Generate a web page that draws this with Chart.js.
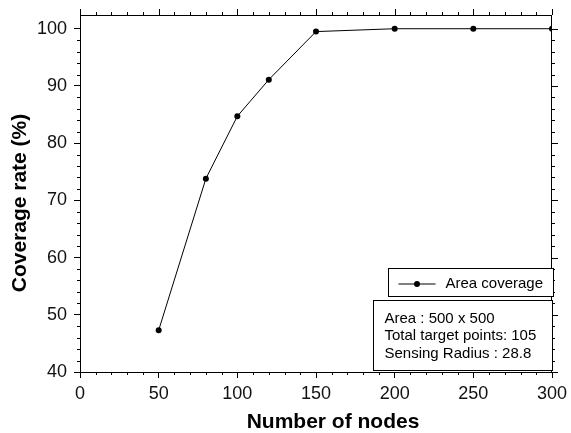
<!DOCTYPE html>
<html>
<head>
<meta charset="utf-8">
<script src="https://cdn.jsdelivr.net/npm/chart.js@4"></script>
<style>
  html, body { margin: 0; padding: 0; background: #fff; }
  #wrap { width: 571px; height: 433px; }
</style>
</head>
<body>
<div id="wrap"><canvas id="myChart" width="571" height="433"></canvas></div>
<script>
// values
var nodes = [50, 80, 100, 120, 150, 200, 250, 300];
var coverage = [47.3, 73.8, 84.7, 91.1, 99.5, 100, 100, 100];
var seriesName = "Area coverage";
var infoLines = ["Area : 500 x 500", "Total target points: 105", "Sensing Radius : 28.8"];
var xTitle = "Number of nodes";
var yTitle = "Coverage rate (%)";

var FONT = "'Liberation Sans', Arial, Helvetica, sans-serif";

// minor ticks, top/right frame, axis titles, legend and the info box
var extras = {
    id: 'extras',
    afterDraw: function (chart) {
        var c = chart.ctx, a = chart.chartArea;
        var xs = chart.scales.x, ys = chart.scales.y;
        c.save();
        c.strokeStyle = '#000';
        c.lineWidth = 1;
        c.beginPath();
        c.moveTo(a.left, a.top + 0.5); c.lineTo(a.right, a.top + 0.5);
        c.moveTo(a.right - 0.5, a.top); c.lineTo(a.right - 0.5, a.bottom);
        // x ticks
        for (var v = 0; v <= 300; v += 10) {
            var px = Math.round(xs.getPixelForValue(v)) + 0.5;
            var major = v % 50 === 0;
            var len = major ? 6 : 3;
            if (!major) { c.moveTo(px, a.bottom); c.lineTo(px, a.bottom + 3); }
            c.moveTo(px, a.top); c.lineTo(px, a.top - len);
        }
        // y ticks
        for (var w = 40; w <= 100; w += 2) {
            var py = Math.round(ys.getPixelForValue(w)) + 0.5;
            var maj = w % 10 === 0;
            var l = maj ? 6 : 3;
            if (!maj) { c.moveTo(a.left, py); c.lineTo(a.left - 3, py); }
            c.moveTo(a.right, py); c.lineTo(a.right + l, py);
        }
        c.stroke();

        // axis titles
        c.fillStyle = '#000';
        c.font = 'bold 21px ' + FONT;
        c.textAlign = 'center';
        c.textBaseline = 'middle';
        c.fillText(xTitle, 333, 422);
        c.save();
        c.translate(20, 203);
        c.rotate(-Math.PI / 2);
        c.fillText(yTitle, 0, 0);
        c.restore();

        // legend box
        var lx = a.right - 163.5, ly = a.bottom - 103.5;
        c.fillStyle = '#fff';
        c.fillRect(lx, ly, 165, 28);
        c.strokeRect(lx, ly, 165, 28);
        c.beginPath();
        c.moveTo(lx + 10, ly + 15.5); c.lineTo(lx + 47, ly + 15.5);
        c.stroke();
        c.fillStyle = '#000';
        c.beginPath();
        c.arc(lx + 28.5, ly + 15.5, 3, 0, Math.PI * 2);
        c.fill();
        c.font = '15px ' + FONT;
        c.textBaseline = 'alphabetic';
        c.textAlign = 'left';
        c.fillText(seriesName, lx + 57, ly + 19.5);

        // info box
        var bx = a.right - 178.5, by = a.bottom - 71.5;
        c.fillStyle = '#fff';
        c.fillRect(bx, by, 179, 70);
        c.strokeRect(bx, by, 179, 70);
        c.fillStyle = '#000';
        for (var i = 0; i < infoLines.length; i++) {
            c.fillText(infoLines[i], bx + 11, by + 22 + i * 17.5);
        }
        c.restore();
    }
};

var ctx = document.getElementById('myChart').getContext('2d');
var myChart = new Chart(ctx, {
    type: 'line',
    data: {
        datasets: [{
            label: seriesName,
            data: nodes.map(function (n, i) { return { x: n, y: coverage[i] }; }),
            borderColor: '#000',
            backgroundColor: '#000',
            borderWidth: 1,
            pointRadius: 3,
            pointBackgroundColor: '#000',
            pointBorderWidth: 0,
            tension: 0,
            fill: false
        }]
    },
    options: {
        responsive: false,
        animation: false,
        events: [],
        layout: { padding: { top: 15, right: 19, left: 0, bottom: 0 } },
        plugins: {
            legend: { display: false },
            tooltip: { enabled: false }
        },
        scales: {
            x: {
                type: 'linear',
                min: 0, max: 300,
                afterFit: function (s) { s.height = 61; s.paddingLeft = 0; s.paddingRight = 0; },
                ticks: { stepSize: 50, color: '#111', padding: 5, maxRotation: 0,
                         font: { family: FONT, size: 18 } },
                grid: { drawOnChartArea: false, drawTicks: true, tickLength: 6, color: '#000' },
                border: { color: '#000', width: 1 },
                title: { display: false }
            },
            y: {
                min: 40, max: 102.4,
                afterFit: function (s) { s.width = 80; s.paddingTop = 0; s.paddingBottom = 0; },
                ticks: { stepSize: 10, includeBounds: false, color: '#111', padding: 7,
                         font: { family: FONT, size: 18 } },
                grid: { drawOnChartArea: false, drawTicks: true, tickLength: 6, color: '#000' },
                border: { color: '#000', width: 1 },
                title: { display: false }
            }
        }
    },
    plugins: [extras]
});
</script>
</body>
</html>
